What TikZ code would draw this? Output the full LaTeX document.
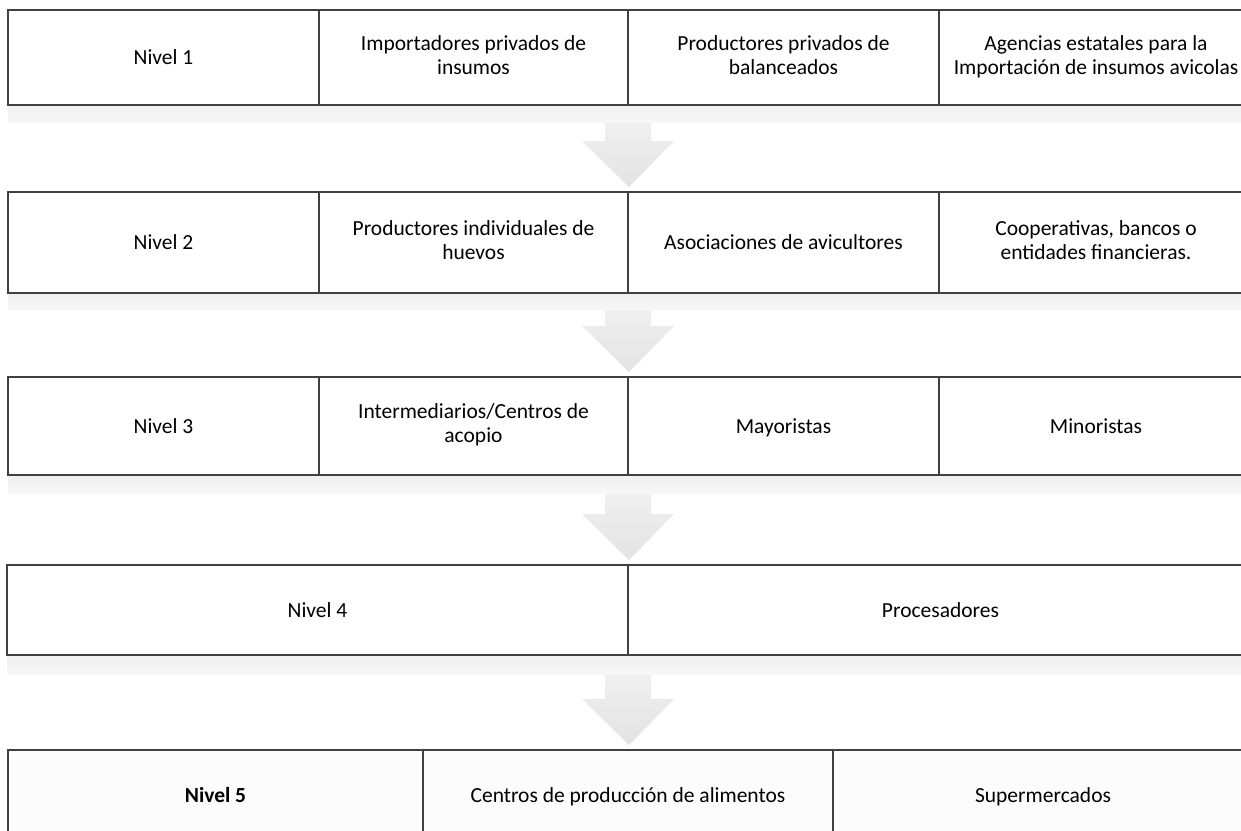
\documentclass[tikz,border=0pt]{standalone}
\usepackage{fontspec}
\setmainfont{Carlito}
\usetikzlibrary{calc}
\newcommand{\cellstrut}{\rule[-5pt]{0pt}{24pt}}

\begin{document}
\begin{tikzpicture}
	[
	x=1pt, y=-1pt,
	cell/.style = {draw=black!75, line width=1.2pt, anchor=north west, inner sep=2pt, outer sep=0pt, align=center, font=\fontsize{21.5}{24}\selectfont, execute at begin node=\cellstrut, execute at end node=\cellstrut},
	band/.style = {top color=black!6, bottom color=black!3},
	flow/.style = {top color=black!5, bottom color=black!11}
	]
	\clip (0,0) rectangle (1241,830);

	\node[cell, minimum width=311pt, minimum height=95pt] (n1a) at (8,10) {Nivel 1};
	\node[cell, minimum width=309pt, minimum height=95pt] (n1b) at (319,10) {Importadores privados de\\insumos};
	\node[cell, minimum width=311pt, minimum height=95pt] (n1c) at (628,10) {Productores privados de\\balanceados};
	\node[cell, minimum width=314pt, minimum height=95pt] (n1d) at (939,10) {Agencias estatales para la\\Importación de insumos avicolas};

	\node[cell, minimum width=311pt, minimum height=101pt] (n2a) at (8,192) {Nivel 2};
	\node[cell, minimum width=309pt, minimum height=101pt] (n2b) at (319,192) {Productores individuales de\\huevos};
	\node[cell, minimum width=311pt, minimum height=101pt] (n2c) at (628,192) {Asociaciones de avicultores};
	\node[cell, minimum width=314pt, minimum height=101pt] (n2d) at (939,192) {Cooperativas, bancos o\\entidades financieras.};

	\node[cell, minimum width=311pt, minimum height=98pt] (n3a) at (8,377) {Nivel 3};
	\node[cell, minimum width=309pt, minimum height=98pt] (n3b) at (319,377) {Intermediarios/Centros de\\acopio};
	\node[cell, minimum width=311pt, minimum height=98pt] (n3c) at (628,377) {Mayoristas};
	\node[cell, minimum width=314pt, minimum height=98pt] (n3d) at (939,377) {Minoristas};

	\node[cell, minimum width=621pt, minimum height=90pt] (n4a) at (7,565) {Nivel 4};
	\node[cell, minimum width=625pt, minimum height=90pt] (n4b) at (628,565) {Procesadores};

	\node[cell, minimum width=415pt, minimum height=90pt, fill=black!1] (n5a) at (8,750) {\bfseries Nivel 5};
	\node[cell, minimum width=410pt, minimum height=90pt, fill=black!1] (n5b) at (423,750) {Centros de producción de alimentos};
	\node[cell, minimum width=420pt, minimum height=90pt, fill=black!1] (n5c) at (833,750) {Supermercados};

	\foreach \a/\b in {n1b/n2b, n2b/n3b, n3b/n4a, n4a/n5b}
		\path[flow] let \p1=(\a.south east), \p2=(\b.north) in
			(\x1-23pt,\y1-4pt) -- (\x1+23pt,\y1-4pt) -- (\x1+23pt,\y2+51pt) -- (\x1+46pt,\y2+51pt)
			-- (\x1+1pt,\y2+5pt) -- (\x1-46pt,\y2+51pt) -- (\x1-23pt,\y2+51pt) -- cycle;

	\path[band] ($(n1a.south west)+(0,1)$) rectangle ($(n1d.south east)+(0,17)$);
	\path[band] ($(n2a.south west)+(0,1)$) rectangle ($(n2d.south east)+(0,17)$);
	\path[band] ($(n3a.south west)+(0,1)$) rectangle ($(n3d.south east)+(0,18)$);
	\path[band] ($(n4a.south west)+(0,1)$) rectangle ($(n4b.south east)+(0,19)$);
\end{tikzpicture}
\end{document}
